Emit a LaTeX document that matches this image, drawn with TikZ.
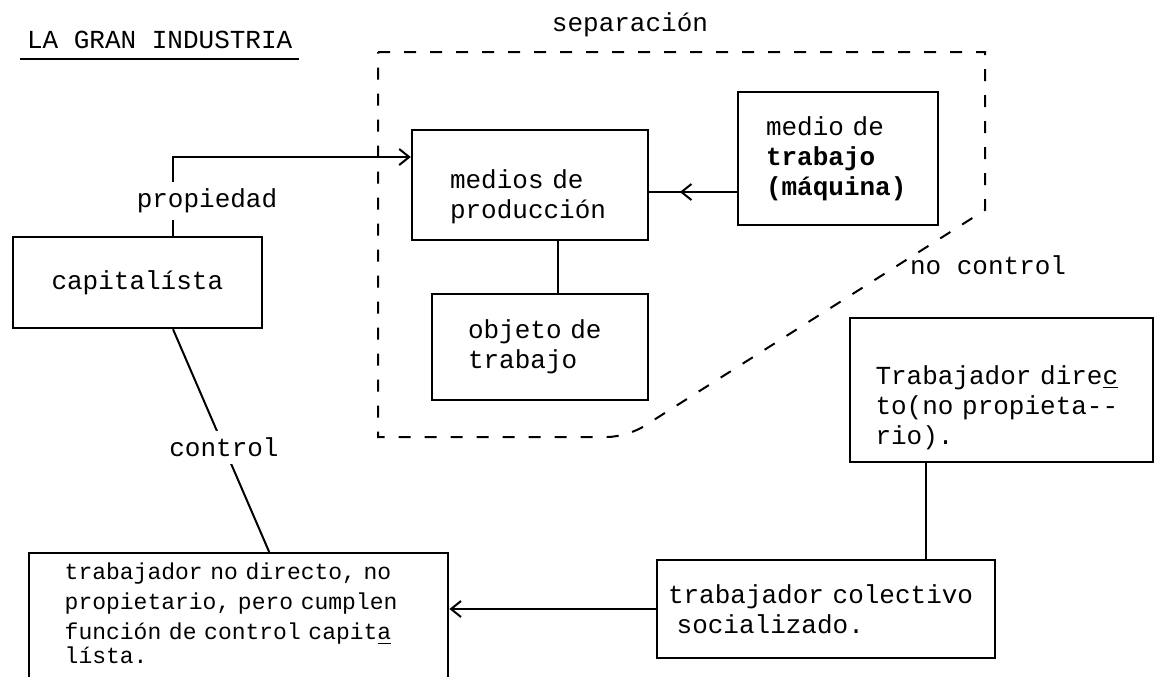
\documentclass[tikz,border=0pt]{standalone}
\usepackage{fontspec}
\setmainfont{Liberation Mono}[WordSpace={1,0,0}]
\usetikzlibrary{positioning, arrows.meta, decorations.markings}

\begin{document}
\begin{tikzpicture}[x=0.5pt, y=-0.5pt,
    every node/.style={font=\fontsize{13}{15}\selectfont},
    box/.style={draw, line width=1.2pt, align=left, inner sep=0pt},
    conn/.style={line width=1pt},
    >={Straight Barb[length=5pt,width=8pt]}]
\useasboundingbox (0,0) rectangle (1155,676);
\clip (0,0) rectangle (1155,676);
\node[anchor=base west] (title) at (20,48) {LA GRAN INDUSTRIA};
\draw[line width=1pt] (title.south west) ++(0,4) coordinate (ulstart) -- (ulstart -| title.south east);
\node (sep) at (630,25) {separación};
\draw[line width=1pt, dash pattern=on 6pt off 7pt] (378,52) -- (985,52) -- (985,210)
    [rounded corners=10pt] -- (627,437) [sharp corners] -- (378,437) -- cycle;
\node[anchor=west] (noctl) at (903,265) {no control};

\node[box, minimum width=124.5pt, minimum height=45.5pt, text width=86pt] (cap) at (137.5,282.5) {capitalísta};
\node[box, minimum width=118pt, minimum height=55pt, text width=80pt] (medprod) at (530,185) {\rule{0pt}{21pt}medios de\\producción};
\node[box, minimum width=100pt, minimum height=66.5pt, text width=72pt] (medtrab) at (838,158.5) {medio de\\\textbf{trabajo}\\\textbf{(máquina)}};
\node[box, minimum width=108pt, minimum height=53pt, text width=72pt] (objeto) at (540,347) {objeto de\\trabajo};
\node[box, minimum width=151.5pt, minimum height=72pt, text width=126pt] (directo) at (1001.5,390) {\rule{0pt}{27pt}Trabajador dire\underline{c}\\to(no propieta-{}-\\rio).};
\node[box, minimum width=169pt, minimum height=49pt, text width=158pt] (colectivo) at (826,609) {trabajador colectivo\\~socializado.};
\node[box, anchor=north west, minimum width=209.5pt, text width=174pt, inner ysep=5pt,
    font=\fontsize{11.5}{15}\selectfont] (nodirecto) at (28,552)
    {trabajador no directo, no\\propietario, pero cumplen\\función de control capit\underline{a}\\[-3pt]lísta.\\\mbox{}};

\coordinate (capup) at ([xshift=17.75pt]cap.north);
\coordinate (capdown) at ([xshift=17.75pt]cap.south);
\coordinate (ctlend) at ([xshift=15.25pt]nodirecto.north);
\coordinate (medin) at ([yshift=14pt]medprod.west);
\coordinate (medout) at ([yshift=-3.5pt]medprod.east);
\coordinate (objup) at ([xshift=14pt]medprod.south);
\coordinate (dirleg) at ([xshift=-37.75pt]directo.south);

\draw[conn, ->] (capup) |- node[pos=0.22, fill=white, xshift=17pt] {propiedad} (medin);
\draw[conn] (capdown) -- node[pos=0.53, fill=white] {control} (ctlend);
\draw[conn, postaction={decorate}, decoration={markings, mark=at position 0.65 with {\arrow{>}}}] (medout -| medtrab.west) -- (medout);
\draw[conn] (objup) -- (objup |- objeto.north);
\draw[conn, ->] (colectivo.west) -- (colectivo.west -| nodirecto.east);
\draw[line width=0.6pt] (dirleg) -- (dirleg |- colectivo.north);
\end{tikzpicture}
\end{document}
